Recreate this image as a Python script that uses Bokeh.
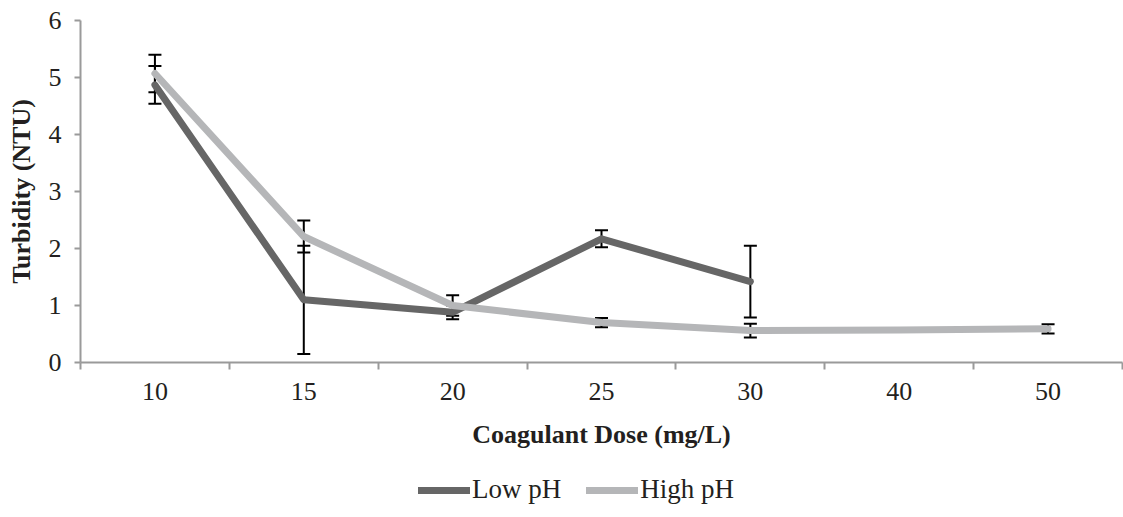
import math
from bokeh.plotting import figure
from bokeh.layouts import column
from bokeh.models import (ColumnDataSource, Whisker, TeeHead, FixedTicker, Range1d,
                          Legend, LegendItem)
from bokeh.embed import file_html
from bokeh.resources import INLINE

NAN = float("nan")
categories = ["10", "15", "20", "25", "30", "40", "50"]
low_ph = [4.87, 1.10, 0.88, 2.17, 1.42, NAN, NAN]
low_err = [0.33, 0.95, 0.12, 0.15, 0.63, NAN, NAN]
high_ph = [5.07, 2.21, 1.00, 0.70, 0.56, 0.57, 0.59]
high_err = [0.33, 0.28, 0.18, 0.08, 0.12, NAN, 0.08]
y_ticks = [0, 1, 2, 3, 4, 5, 6]
series_names = ["Low pH", "High pH"]

x_pos = [i + 0.5 for i in range(len(categories))]

FONT = "Liberation Serif"
FS = "26px"
DARK = "#666666"
LIGHT = "#b5b6b8"
AXIS = "#9a9a9a"
TEXT = "#231f20"

p = figure(width=1123, height=465, output_backend="svg", toolbar_location=None,
           x_range=Range1d(0, len(categories)), y_range=Range1d(0, 6),
           min_border_left=80, min_border_right=1, min_border_top=20,
           min_border_bottom=103)
p.outline_line_color = None
p.xgrid.grid_line_color = None
p.ygrid.grid_line_color = None
p.background_fill_color = "white"
p.border_fill_color = "white"


def err_source(vals, errs):
    xs, up, lo = [], [], []
    for x, v, e in zip(x_pos, vals, errs):
        if not (math.isnan(v) or math.isnan(e)):
            xs.append(x)
            up.append(v + e)
            lo.append(v - e)
    return ColumnDataSource(dict(x=xs, upper=up, lower=lo))


for vals, errs in [(low_ph, low_err), (high_ph, high_err)]:
    src = err_source(vals, errs)
    w = Whisker(base="x", upper="upper", lower="lower", source=src,
                line_color="black", line_width=2,
                upper_head=TeeHead(size=13, line_color="black", line_width=2),
                lower_head=TeeHead(size=13, line_color="black", line_width=2))
    p.add_layout(w)

low_src = ColumnDataSource(dict(x=x_pos, y=low_ph))
high_src = ColumnDataSource(dict(x=x_pos, y=high_ph))
r_low = p.line("x", "y", source=low_src, line_color=DARK, line_width=7,
               line_join="round", line_cap="round", level="overlay")
r_high = p.line("x", "y", source=high_src, line_color=LIGHT, line_width=7,
                line_join="round", line_cap="round", level="overlay")

# x axis
xa = p.xaxis[0]
xa.ticker = FixedTicker(ticks=x_pos, minor_ticks=list(range(len(categories) + 1)))
xa.major_label_overrides = {x: c for x, c in zip(x_pos, categories)}
xa.major_tick_line_color = None
xa.major_tick_out = 0
xa.major_tick_in = 0
xa.minor_tick_line_color = AXIS
xa.minor_tick_line_width = 2
xa.minor_tick_out = 7
xa.minor_tick_in = 0
xa.axis_line_color = AXIS
xa.axis_line_width = 2
xa.major_label_text_font = FONT
xa.major_label_text_font_size = FS
xa.major_label_text_color = TEXT
xa.major_label_standoff = 13
xa.axis_label = "Coagulant Dose (mg/L)"
xa.axis_label_text_font = FONT
xa.axis_label_text_font_size = FS
xa.axis_label_text_font_style = "bold"
xa.axis_label_text_color = TEXT
xa.axis_label_standoff = 17

ya = p.yaxis[0]
ya.ticker = FixedTicker(ticks=y_ticks)
ya.minor_tick_line_color = None
ya.major_tick_line_color = AXIS
ya.major_tick_line_width = 2
ya.major_tick_out = 6
ya.major_tick_in = 0
ya.axis_line_color = AXIS
ya.axis_line_width = 2
ya.major_label_text_font = FONT
ya.major_label_text_font_size = FS
ya.major_label_text_color = TEXT
ya.major_label_standoff = 13
ya.axis_label = "Turbidity (NTU)"
ya.axis_label_text_font = FONT
ya.axis_label_text_font_size = FS
ya.axis_label_text_font_style = "bold"
ya.axis_label_text_color = TEXT
ya.axis_label_standoff = 10

# legend strip below the chart
lf = figure(width=1123, height=52, output_backend="svg", toolbar_location=None,
            x_range=Range1d(0, 1), y_range=Range1d(0, 1),
            min_border=0, x_axis_type=None, y_axis_type=None)
lf.outline_line_color = None
lf.xgrid.grid_line_color = None
lf.ygrid.grid_line_color = None
lf.border_fill_color = "white"
hidden = ColumnDataSource(dict(x=[NAN], y=[NAN]))
l_low = lf.line("x", "y", source=hidden, line_color=DARK, line_width=7, line_cap="round")
l_high = lf.line("x", "y", source=hidden, line_color=LIGHT, line_width=7, line_cap="round")

legend = Legend(items=[LegendItem(label=series_names[0], renderers=[l_low]),
                       LegendItem(label=series_names[1], renderers=[l_high])],
                orientation="horizontal", location=(338, 12),
                label_text_font=FONT, label_text_font_size="27px",
                label_text_color=TEXT, glyph_width=52, glyph_height=24,
                label_height=24,
                label_standoff=2, spacing=25, padding=0, margin=0,
                border_line_color=None, background_fill_alpha=0)
lf.add_layout(legend, "center")

layout = column(p, lf, spacing=0)
open("out.html", "w").write(file_html(layout, INLINE))
